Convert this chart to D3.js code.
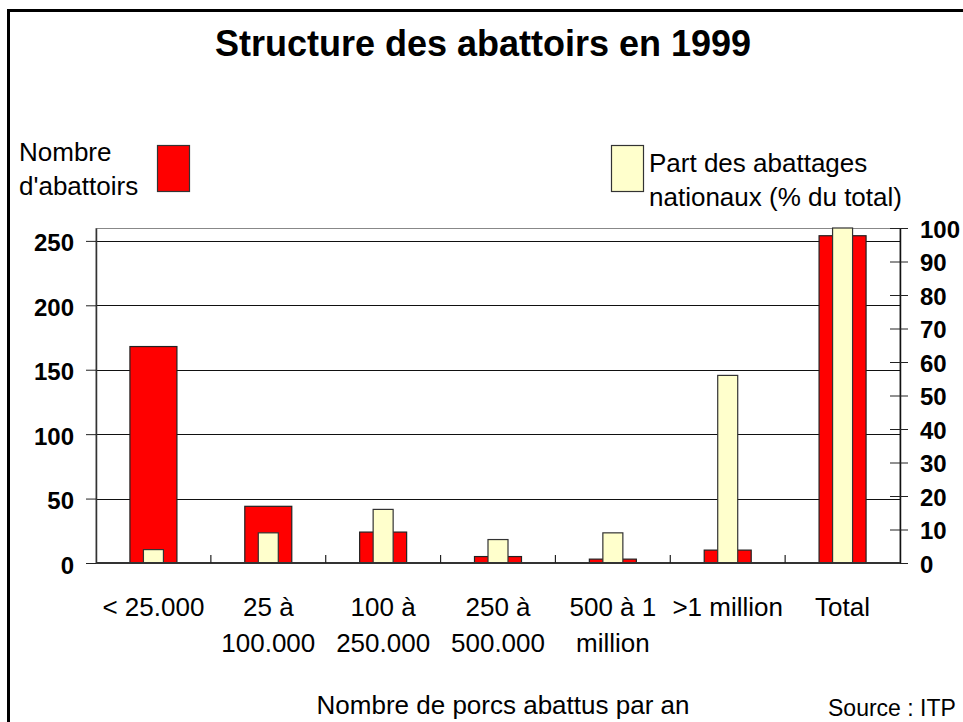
<!DOCTYPE html>
<html>
<head>
<meta charset="utf-8">
<script src="https://cdn.jsdelivr.net/npm/d3@7/dist/d3.min.js"></script>
<style>
  body { margin: 0; background: #fff; }
  svg { display: block; font-family: "Liberation Sans", Arial, sans-serif; }
</style>
</head>
<body>
<svg id="chart" width="963" height="722"></svg>
<script>
var categories = [
  ['< 25.000'],
  ['25 à', '100.000'],
  ['100 à', '250.000'],
  ['250 à', '500.000'],
  ['500 à 1', 'million'],
  ['>1 million'],
  ['Total']
];
var nombreAbattoirs = [168, 44, 24, 5, 3, 10, 254];
var partAbattages = [4, 9, 16, 7, 9, 56, 100];
var leftTicks = [0, 50, 100, 150, 200, 250];
var rightTicks = [0, 10, 20, 30, 40, 50, 60, 70, 80, 90, 100];

const plot = { left: 96, right: 900, top: 228, bottom: 563 };
const redWidth = 47;
const creamWidth = 20;

var svg = d3.select('#chart');

var x = d3
  .scaleBand()
  .domain(d3.range(categories.length))
  .range([plot.left, plot.right]);
var yLeft = d3.scaleLinear().domain([0, 260]).range([plot.bottom, plot.top]);
var yRight = d3.scaleLinear().domain([0, 100]).range([plot.bottom, plot.top]);

// frame round the whole slide
svg
  .append('rect')
  .attr('x', 8.5)
  .attr('y', 10.5)
  .attr('width', 1000)
  .attr('height', 800)
  .attr('fill', 'none')
  .attr('stroke', '#000')
  .attr('stroke-width', 3);

svg
  .append('text')
  .attr('x', 483)
  .attr('y', 56)
  .attr('text-anchor', 'middle')
  .attr('font-size', 36)
  .attr('font-weight', 'bold')
  .text('Structure des abattoirs en 1999');

// plot area border
svg
  .append('rect')
  .attr('x', plot.left)
  .attr('y', plot.top + 0.5)
  .attr('width', plot.right - plot.left)
  .attr('height', plot.bottom - plot.top)
  .attr('fill', 'none')
  .attr('stroke', '#888')
  .attr('stroke-width', 1);

// gridlines
svg
  .append('g')
  .selectAll('line')
  .data(leftTicks.slice(1))
  .enter()
  .append('line')
  .attr('x1', plot.left)
  .attr('x2', plot.right)
  .attr('y1', function(d) { return Math.round(yLeft(d)) + 0.5; })
  .attr('y2', function(d) { return Math.round(yLeft(d)) + 0.5; })
  .attr('stroke', '#111')
  .attr('stroke-width', 1);

// bars
var groups = svg
  .append('g')
  .selectAll('.bar-group')
  .data(categories)
  .enter()
  .append('g')
  .classed('bar-group', true)
  .attr('transform', getGroupTransform);

groups
  .append('rect')
  .attr('x', -redWidth / 2)
  .attr('width', redWidth)
  .attr('y', function(d, i) { return yLeft(nombreAbattoirs[i]); })
  .attr('height', function(d, i) { return plot.bottom - yLeft(nombreAbattoirs[i]); })
  .attr('fill', '#ff0000')
  .attr('stroke', '#222')
  .attr('stroke-width', 1.2);

groups
  .append('rect')
  .attr('x', -creamWidth / 2)
  .attr('width', creamWidth)
  .attr('y', function(d, i) { return yRight(partAbattages[i]); })
  .attr('height', function(d, i) { return plot.bottom - yRight(partAbattages[i]); })
  .attr('fill', '#ffffcc')
  .attr('stroke', '#333')
  .attr('stroke-width', 1.2);

// left axis
var leftAxis = svg
  .append('g')
  .attr('transform', 'translate(' + plot.left + ',0)')
  .call(d3.axisLeft(yLeft).tickValues(leftTicks).tickSize(10).tickPadding(12).tickSizeOuter(0));
leftAxis.select('.domain').attr('stroke', '#333').attr('stroke-width', 1.5);
leftAxis.selectAll('.tick line').attr('stroke', '#222');
leftAxis
  .selectAll('.tick text')
  .attr('font-family', '"Liberation Sans", Arial, sans-serif')
  .attr('font-size', 24)
  .attr('font-weight', 'bold')
  .attr('fill', '#000')
  .attr('dy', '0.42em');

// right axis, ticks cross the line
var rightAxis = svg
  .append('g')
  .attr('transform', 'translate(' + plot.right + ',0)')
  .call(d3.axisRight(yRight).tickValues(rightTicks).tickSize(8).tickPadding(12).tickSizeOuter(0));
rightAxis.select('.domain').attr('stroke', '#111').attr('stroke-width', 1.5);
rightAxis.selectAll('.tick line').attr('x1', -10).attr('stroke', '#222');
rightAxis
  .selectAll('.tick text')
  .attr('font-family', '"Liberation Sans", Arial, sans-serif')
  .attr('font-size', 24)
  .attr('font-weight', 'bold')
  .attr('fill', '#000')
  .attr('dy', '0.38em');

// bottom axis line and inner ticks between categories
svg
  .append('line')
  .attr('x1', plot.left)
  .attr('x2', plot.right)
  .attr('y1', plot.bottom)
  .attr('y2', plot.bottom)
  .attr('stroke', '#333')
  .attr('stroke-width', 2);
svg
  .append('g')
  .selectAll('line')
  .data(d3.range(1, categories.length))
  .enter()
  .append('line')
  .attr('x1', function(d) { return x(d); })
  .attr('x2', function(d) { return x(d); })
  .attr('y1', plot.bottom)
  .attr('y2', plot.bottom - 8)
  .attr('stroke', '#222')
  .attr('stroke-width', 1.2);

// category labels
var labels = svg
  .append('g')
  .selectAll('text')
  .data(categories)
  .enter()
  .append('text')
  .attr('text-anchor', 'middle')
  .attr('font-size', 26)
  .attr('transform', getGroupTransform);
labels
  .selectAll('tspan')
  .data(function(d) { return d; })
  .enter()
  .append('tspan')
  .attr('x', 0)
  .attr('y', function(d, i) { return 616 + i * 36; })
  .text(function(d) { return d; });

svg
  .append('text')
  .attr('x', 503)
  .attr('y', 714)
  .attr('text-anchor', 'middle')
  .attr('font-size', 26)
  .text('Nombre de porcs abattus par an');

svg
  .append('text')
  .attr('x', 828)
  .attr('y', 716)
  .attr('font-size', 23)
  .text('Source : ITP');

// legends
drawLegend(['Nombre', "d'abattoirs"], 19, [161, 195], 157, '#ff0000');
drawLegend(['Part des abattages', 'nationaux (% du total)'], 649, [172, 206], 611, '#ffffcc');

function drawLegend(lines, textX, baselines, swatchX, colour) {
  var g = svg.append('g').classed('legend', true);
  g.append('rect')
    .attr('x', swatchX + 0.5)
    .attr('y', 145.5)
    .attr('width', 32)
    .attr('height', 46)
    .attr('fill', colour)
    .attr('stroke', '#333')
    .attr('stroke-width', 1.2);
  g.selectAll('text')
    .data(lines)
    .enter()
    .append('text')
    .attr('x', textX)
    .attr('y', function(d, i) { return baselines[i]; })
    .attr('font-size', 26)
    .text(function(d) { return d; });
}

function getGroupTransform(d, i) {
  return 'translate(' + (x(i) + x.bandwidth() / 2) + ',0)';
}
</script>
</body>
</html>
